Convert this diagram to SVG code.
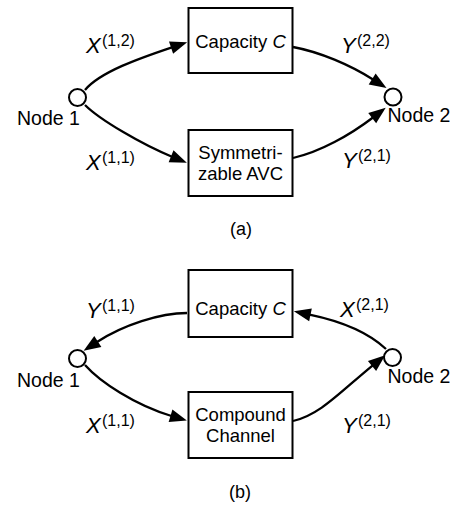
<svg xmlns="http://www.w3.org/2000/svg" width="459" height="506" viewBox="0 0 459 506">
<defs>
<style>
text{font-family:"Liberation Sans",Arial,Helvetica,sans-serif;fill:#000}
.box{fill:#fff;stroke:#000;stroke-width:2}
.node{fill:#fff;stroke:#000;stroke-width:2}
.edge{fill:none;stroke:#000;stroke-width:2.3}
.bt{font-size:18.5px;text-anchor:middle}
.nl{font-size:19.5px}
.v{font-size:22px;font-style:italic}
.s{font-size:16px}
.cap{font-size:18px;text-anchor:middle}
</style>
<marker id="ah" markerUnits="userSpaceOnUse" markerWidth="18" markerHeight="14" refX="0" refY="6.5" orient="auto" overflow="visible">
<path d="M-1,0 L16,6.5 L-1,13 z" fill="#000"/>
</marker>
</defs>
<rect width="459" height="506" fill="#fff"/>

<g id="edges-a">
<path class="edge" marker-end="url(#ah)" d="M85,90 C100,72 140,58 172,47.3"/>
<path class="edge" marker-end="url(#ah)" d="M85,105 C100,120 143,145 172,156.7"/>
<path class="edge" marker-end="url(#ah)" d="M293,47 C320,52 350,65 373,79.5"/>
<path class="edge" marker-end="url(#ah)" d="M293,158 C320,152 350,135 373,117.5"/>
</g>
<g id="edges-b">
<path class="edge" marker-end="url(#ah)" d="M187,313 C160,313 123,325 97,342"/>
<path class="edge" marker-end="url(#ah)" d="M85,365 C100,382 135,405 171.5,416"/>
<path class="edge" marker-end="url(#ah)" d="M386,349 C370,334 345,322 309.5,314.6"/>
<path class="edge" marker-end="url(#ah)" d="M293,421 C320,415 340,392 372.8,365.3"/>
</g>

<g id="a-node1">
<circle class="node" cx="77.5" cy="97.5" r="8.5"/>
<text class="nl" x="17" y="125">Node 1</text>
</g>
<g id="a-node2">
<circle class="node" cx="393" cy="97" r="8.5"/>
<text class="nl" x="387.5" y="122">Node 2</text>
</g>
<g id="a-cap">
<rect class="box" x="188.5" y="8" width="104" height="65"/>
<text class="bt" x="240.5" y="47.5">Capacity <tspan font-style="italic">C</tspan></text>
</g>
<g id="a-avc">
<rect class="box" x="188.5" y="130" width="104" height="66"/>
<text class="bt" x="240.5" y="158.5">Symmetri-</text>
<text class="bt" x="240.5" y="180">zable AVC</text>
</g>
<g id="a-labels">
<text class="v" x="86" y="53">X</text><text class="s" x="102" y="46">(1,2)</text>
<text class="v" x="86" y="170">X</text><text class="s" x="102" y="163">(1,1)</text>
<text class="v" x="341" y="53">Y</text><text class="s" x="357" y="46">(2,2)</text>
<text class="v" x="342" y="168">Y</text><text class="s" x="358" y="161">(2,1)</text>
<text class="cap" x="241" y="235">(a)</text>
</g>

<g id="b-node1">
<circle class="node" cx="77.5" cy="358.5" r="8.5"/>
<text class="nl" x="17" y="386.5">Node 1</text>
</g>
<g id="b-node2">
<circle class="node" cx="392.5" cy="357.5" r="8.5"/>
<text class="nl" x="387.5" y="383">Node 2</text>
</g>
<g id="b-cap">
<rect class="box" x="188.5" y="270" width="104" height="67"/>
<text class="bt" x="240.5" y="315">Capacity <tspan font-style="italic">C</tspan></text>
</g>
<g id="b-comp">
<rect class="box" x="188.5" y="392" width="104" height="66"/>
<text class="bt" x="240.5" y="420.5">Compound</text>
<text class="bt" x="240.5" y="442">Channel</text>
</g>
<g id="b-labels">
<text class="v" x="86" y="318">Y</text><text class="s" x="102" y="311">(1,1)</text>
<text class="v" x="86" y="433">X</text><text class="s" x="102" y="426">(1,1)</text>
<text class="v" x="340" y="317">X</text><text class="s" x="356" y="310">(2,1)</text>
<text class="v" x="342" y="433">Y</text><text class="s" x="358" y="426">(2,1)</text>
<text class="cap" x="240" y="498">(b)</text>
</g>
</svg>
